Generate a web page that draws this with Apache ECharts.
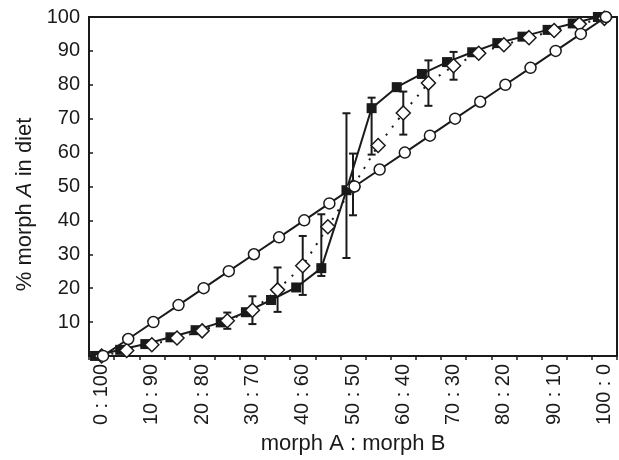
<!DOCTYPE html>
<html>
<head>
<meta charset="utf-8">
<title>morph A in diet</title>
<script src="https://cdn.jsdelivr.net/npm/echarts@6/dist/echarts.min.js"></script>
<style>
  html, body { margin: 0; padding: 0; background: #fff; }
  #chart { width: 619px; height: 460px; }
</style>
</head>
<body>
<div id="chart"></div>
<script>
(function (echarts) {
  "use strict";

  // proportion of morph A offered (x), one entry per treatment
  var ratios = [0, 5, 10, 15, 20, 25, 30, 35, 40, 45, 50, 55, 60, 65, 70, 75, 80, 85, 90, 95, 100];
  var tickLabels = ['0 : 100', '5 : 95', '10 : 90', '15 : 85', '20 : 80', '25 : 75', '30 : 70',
    '35 : 65', '40 : 60', '45 : 55', '50 : 50', '55 : 45', '60 : 40', '65 : 35', '70 : 30',
    '75 : 25', '80 : 20', '85 : 15', '90 : 10', '95 : 5', '100 : 0'];

  // % morph A in diet
  var circleValues = [0, 5, 10, 15, 20, 25, 30, 35, 40, 45, 50, 55, 60, 65, 70, 75, 80, 85, 90, 95, 100];
  var squareValues = [0, 1.8, 3.5, 5.5, 7.6, 9.9, 12.9, 16.5, 20.2, 25.9, 48.9, 73.1, 79.3, 83.2,
    86.7, 89.6, 92.3, 94.2, 96.2, 98.1, 100];
  var diamondValues = [0, 1.6, 3.3, 5.3, 7.4, 10.4, 13.5, 19.5, 26.6, 38.1, 50, 62.1, 71.7, 80.5,
    85.6, 89.3, 91.8, 93.9, 96, 97.9, 99.6];

  // error bars, null where none is visible
  var squareErrLow = [null, null, null, null, null, null, null, null, null, 23.6, 28.9, 59.4, null,
    null, null, null, null, null, null, null, null];
  var squareErrHigh = [null, null, null, null, null, null, null, null, null, 41.8, 71.6, 76.2, null,
    null, null, null, null, null, null, null, null];
  var diamondErrLow = [null, null, null, null, null, 8, 9.4, 13, 18, null, 41.5, null, 65.3, 73.8,
    81.5, null, null, null, null, null, null];
  var diamondErrHigh = [null, null, null, null, null, 12.8, 17.6, 26.1, 35.4, null, 59.7, null, 78,
    87.2, 89.7, null, null, null, null, null, null];

  var INK = '#1a1a1a';
  var FONT = '"Liberation Sans", Arial, Helvetica, sans-serif';
  // markers are nudged sideways so they don't hide each other
  var SQUARE_SHIFT = -1.3, DIAMOND_SHIFT = 0, CIRCLE_SHIFT = 0.3;

  function points(values, shift) {
    return values.map(function (v, i) { return [ratios[i] + shift, v]; });
  }

  function errorData(low, high, shift) {
    var out = [];
    ratios.forEach(function (r, i) {
      if (low[i] != null && high[i] != null) out.push([r + shift, low[i], high[i]]);
    });
    return out;
  }

  function errorBarItem(params, api) {
    var x = api.value(0);
    var bottom = api.coord([x, api.value(1)]);
    var top = api.coord([x, api.value(2)]);
    var cap = 4;
    var style = { stroke: INK, lineWidth: 2 };
    return {
      type: 'group',
      children: [
        { type: 'line', shape: { x1: top[0], y1: top[1], x2: bottom[0], y2: bottom[1] }, style: style },
        { type: 'line', shape: { x1: top[0] - cap, y1: top[1], x2: top[0] + cap, y2: top[1] }, style: style },
        { type: 'line', shape: { x1: bottom[0] - cap, y1: bottom[1], x2: bottom[0] + cap, y2: bottom[1] }, style: style }
      ]
    };
  }

  function errorSeries(low, high, shift) {
    return {
      type: 'custom',
      xAxisIndex: 1,
      renderItem: errorBarItem,
      encode: { x: 0, y: [1, 2] },
      data: errorData(low, high, shift),
      z: 2,
      silent: true
    };
  }

  var chart = echarts.init(document.getElementById('chart'), null, { renderer: 'canvas' });

  chart.setOption({
    animation: false,
    textStyle: { fontFamily: FONT, color: INK },
    grid: {
      left: 89, right: 2, top: 17, bottom: 103,
      show: true, borderColor: INK, borderWidth: 2
    },
    xAxis: [{
      type: 'category',
      data: tickLabels,
      boundaryGap: true,
      axisLine: { show: true, onZero: false, lineStyle: { color: INK, width: 2 } },
      axisTick: { show: true, interval: 0, length: 4, lineStyle: { color: INK, width: 1.5 } },
      axisLabel: { interval: 1, rotate: 90, margin: 8, fontSize: 20, color: INK, fontFamily: FONT },
      splitLine: { show: false },
      name: 'morph A : morph B',
      nameLocation: 'middle',
      nameGap: 69,
      nameTextStyle: { fontSize: 22, color: INK, fontFamily: FONT }
    }, {
      type: 'value',
      min: -2.5,
      max: 102.5,
      show: false
    }],
    yAxis: {
      type: 'value',
      min: 0,
      max: 100,
      interval: 10,
      axisLine: { show: true, onZero: false, lineStyle: { color: INK, width: 2 } },
      axisTick: { show: true, inside: true, length: 4, lineStyle: { color: INK, width: 1.5 } },
      axisLabel: {
        margin: 9, fontSize: 20, color: INK, fontFamily: FONT,
        formatter: function (v) { return v === 0 ? '' : String(v); }
      },
      splitLine: { show: false },
      name: '% morph {i|A} in diet',
      nameLocation: 'middle',
      nameGap: 52,
      nameTextStyle: {
        fontSize: 22, color: INK, fontFamily: FONT,
        // title sits a little below the middle of the axis in the original
        padding: [0, 36, 0, 0],
        rich: { i: { fontSize: 22, fontStyle: 'italic', color: INK, fontFamily: FONT } }
      }
    },
    series: [
      errorSeries(squareErrLow, squareErrHigh, SQUARE_SHIFT),
      errorSeries(diamondErrLow, diamondErrHigh, DIAMOND_SHIFT),
      {
        type: 'line',
        xAxisIndex: 1,
        data: points(squareValues, SQUARE_SHIFT),
        symbol: 'rect',
        symbolSize: 10,
        showAllSymbol: true,
        itemStyle: { color: INK },
        lineStyle: { color: INK, width: 2 },
        z: 3
      },
      {
        type: 'line',
        xAxisIndex: 1,
        data: points(diamondValues, DIAMOND_SHIFT),
        symbol: 'diamond',
        symbolSize: 14,
        showAllSymbol: true,
        itemStyle: { color: '#fff', borderColor: INK, borderWidth: 1.5 },
        lineStyle: { color: INK, width: 2, type: [2, 8] },
        z: 4
      },
      {
        type: 'line',
        xAxisIndex: 1,
        data: points(circleValues, CIRCLE_SHIFT),
        symbol: 'circle',
        symbolSize: 11,
        showAllSymbol: true,
        itemStyle: { color: '#fff', borderColor: INK, borderWidth: 1.5 },
        lineStyle: { color: INK, width: 2 },
        z: 5
      }
    ]
  });
})(echarts);
</script>
</body>
</html>
